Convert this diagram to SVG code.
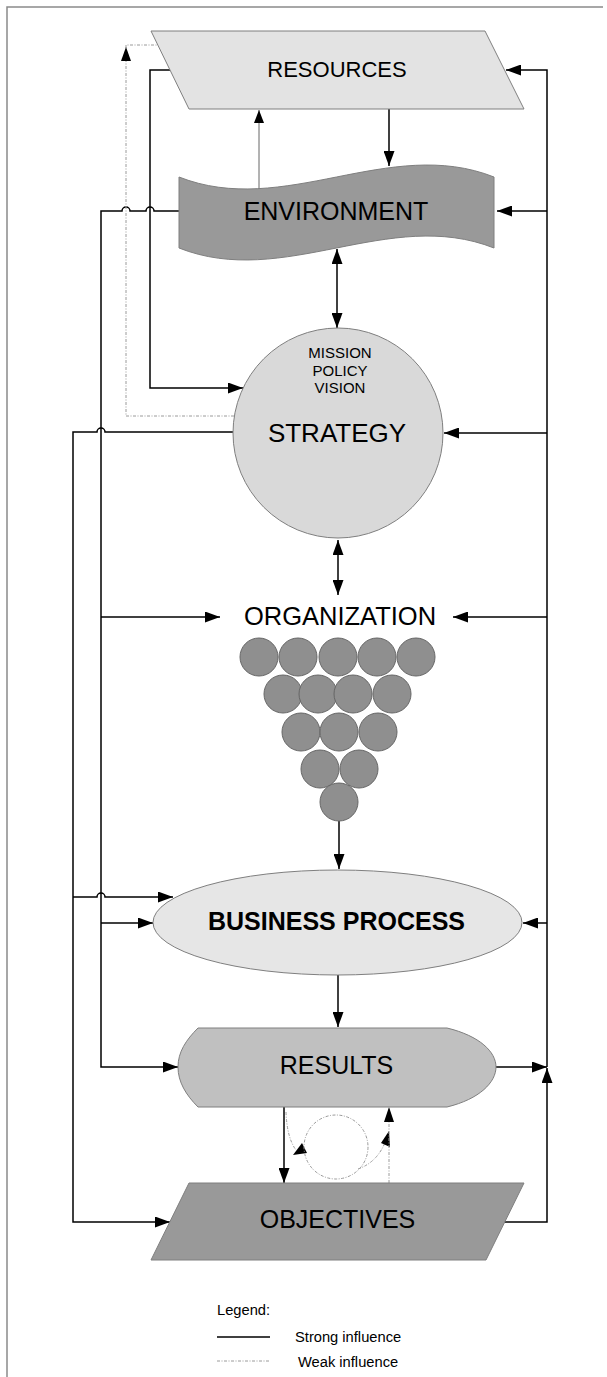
<svg xmlns="http://www.w3.org/2000/svg" width="607" height="1377" viewBox="0 0 607 1377">
  <defs>
    <marker id="arrow" viewBox="0 0 15 11" refX="15" refY="5.5" markerWidth="15" markerHeight="11" markerUnits="userSpaceOnUse" orient="auto-start-reverse">
      <path d="M0,0 L15,5.5 L0,11 z" fill="#000"/>
    </marker>
    <marker id="arrowSmall" viewBox="0 0 13 10" refX="13" refY="5" markerWidth="13" markerHeight="10" markerUnits="userSpaceOnUse" orient="auto">
      <path d="M0,0 L13,5 L0,10 z" fill="#000"/>
    </marker>
  </defs>
  <style>
    .shape { stroke: #7f7f7f; stroke-width: 1; }
    .strong { fill: none; stroke: #000; stroke-width: 1.5; }
    .thin { fill: none; stroke: #666; stroke-width: 1; }
    .weak { fill: none; stroke: #9a9a9a; stroke-width: 1; stroke-dasharray: 3 1.5 1 1.5; }
    .label { font-family: "Liberation Sans", Arial, sans-serif; fill: #000; text-anchor: middle; }
    .big { font-size: 25px; }
    .legend { font-family: "Liberation Sans", Arial, sans-serif; font-size: 14.7px; fill: #000; }
    .org { fill: #8f8f8f; stroke: #666; stroke-width: 1; }
  </style>

  <rect width="607" height="1377" fill="#fff"/>
  <!-- page frame -->
  <path d="M7,1377 V7 H603" fill="none" stroke="#8a8a8a" stroke-width="1.5"/>

  <!-- connectors -->
  <g id="connectors">
    <!-- right feedback bus -->
    <path class="strong" d="M547,1067 V70 H506" marker-end="url(#arrow)"/>
    <path class="strong" d="M547,211 H497" marker-end="url(#arrow)"/>
    <path class="strong" d="M547,433 H444" marker-end="url(#arrow)"/>
    <path class="strong" d="M547,617 H453" marker-end="url(#arrow)"/>
    <path class="strong" d="M547,923 H523" marker-end="url(#arrow)"/>
    <path class="strong" d="M496,1067 H547" marker-end="url(#arrow)"/>
    <path class="strong" d="M504,1222 H547 V1068" marker-end="url(#arrow)"/>

    <!-- environment to the left bus -->
    <path class="strong" d="M179,211 H154 a4,4 0 0 0 -8,0 H130 a4,4 0 0 0 -8,0 H101 V1067 H178" marker-end="url(#arrow)"/>
    <path class="strong" d="M101,617 H220" marker-end="url(#arrow)"/>
    <path class="strong" d="M101,923 H153" marker-end="url(#arrow)"/>

    <!-- strategy to the outer left bus -->
    <path class="strong" d="M233,432 H105 a4,4 0 0 0 -8,0 H73 V1222 H170" marker-end="url(#arrow)"/>
    <path class="strong" d="M73,897 H97 a4,4 0 0 1 8,0 H173" marker-end="url(#arrow)"/>

    <!-- resources to strategy -->
    <path class="strong" d="M170,70 H150 V388 H243" marker-end="url(#arrow)"/>

    <!-- vertical flow -->
    <path class="strong" d="M389,109 V166" marker-end="url(#arrow)"/>
    <path class="thin" d="M259,189 V110" marker-end="url(#arrowSmall)"/>
    <path class="strong" d="M337,249 V328" marker-start="url(#arrow)" marker-end="url(#arrow)"/>
    <path class="strong" d="M338,540 V595" marker-start="url(#arrow)" marker-end="url(#arrow)"/>
    <path class="strong" d="M339,821 V869" marker-end="url(#arrow)"/>
    <path class="strong" d="M338,975 V1027" marker-end="url(#arrow)"/>
    <path class="strong" d="M284,1107 V1183" marker-end="url(#arrow)"/>

    <!-- weak influences -->
    <path class="weak" d="M234,416 H126 V45 H158"/>
    <path d="M126,47 L131,61 L121,61 z" fill="#000"/>
    <path class="weak" d="M286,1112 Q287,1138 296,1150"/>
    <path d="M293,1155 L302,1143 L307,1153 z" fill="#000"/>
    <circle class="weak" cx="336" cy="1147" r="32"/>
    <path class="weak" d="M358,1169 Q378,1162 386,1140"/>
    <path d="M389,1131 L390,1147 L381,1143 z" fill="#000"/>
    <path class="weak" d="M389,1183 V1120"/>
    <path d="M389,1107 L394,1122 L384,1122 z" fill="#000"/>
  </g>

  <!-- nodes -->
  <g id="resources">
    <path class="shape" d="M151,31 H485 L524,109 H189 z" fill="#e3e3e3"/>
    <text class="label" x="337" y="77" font-size="22">RESOURCES</text>
  </g>

  <g id="environment">
    <path class="shape" d="M179,177 C284,218.5 389,135.5 494,177 V248 C389,206.5 284,289.5 179,248 z" fill="#999"/>
    <text class="label big" x="336" y="220">ENVIRONMENT</text>
  </g>

  <g id="strategy">
    <circle class="shape" cx="338" cy="433" r="105" fill="#d9d9d9"/>
    <text class="label" font-size="15" x="340" y="358">MISSION</text>
    <text class="label" font-size="15" x="340" y="376">POLICY</text>
    <text class="label" font-size="15" x="340" y="393">VISION</text>
    <text class="label" font-size="26" x="337" y="442">STRATEGY</text>
  </g>

  <g id="organization">
    <text class="label" font-size="25.5" x="340" y="625">ORGANIZATION</text>
    <circle class="org" cx="259" cy="657" r="19"/>
    <circle class="org" cx="298" cy="657" r="19"/>
    <circle class="org" cx="338" cy="657" r="19"/>
    <circle class="org" cx="377" cy="657" r="19"/>
    <circle class="org" cx="416" cy="657" r="19"/>
    <circle class="org" cx="283" cy="694" r="19"/>
    <circle class="org" cx="318" cy="694" r="19"/>
    <circle class="org" cx="353" cy="694" r="19"/>
    <circle class="org" cx="392" cy="694" r="19"/>
    <circle class="org" cx="301" cy="732" r="19"/>
    <circle class="org" cx="339" cy="732" r="19"/>
    <circle class="org" cx="378" cy="732" r="19"/>
    <circle class="org" cx="320" cy="769" r="19"/>
    <circle class="org" cx="359" cy="769" r="19"/>
    <circle class="org" cx="339" cy="802" r="19"/>
  </g>

  <g id="business-process">
    <ellipse class="shape" cx="337.5" cy="922.5" rx="184.5" ry="52.5" fill="#e6e6e6"/>
    <text class="label big" x="336.5" y="930" font-weight="bold">BUSINESS PROCESS</text>
  </g>

  <g id="results">
    <path class="shape" d="M198,1028 H447 C480,1036 496,1052 496,1067 C496,1082 480,1099 447,1107 H198 C186,1095 178,1082 178,1067 C178,1052 186,1040 198,1028 z" fill="#c0c0c0"/>
    <text class="label big" x="336.5" y="1074">RESULTS</text>
  </g>

  <g id="objectives">
    <path class="shape" d="M189,1183 H524 L486,1260 H151 z" fill="#999"/>
    <text class="label big" x="337.5" y="1228">OBJECTIVES</text>
  </g>

  <!-- legend -->
  <g id="legend">
    <text class="legend" x="217" y="1315">Legend:</text>
    <path d="M217,1337 H270" stroke="#000" stroke-width="1.5" fill="none"/>
    <text class="legend" x="295" y="1342">Strong influence</text>
    <path class="weak" d="M217,1361 H270"/>
    <text class="legend" x="298" y="1367">Weak influence</text>
  </g>
</svg>
